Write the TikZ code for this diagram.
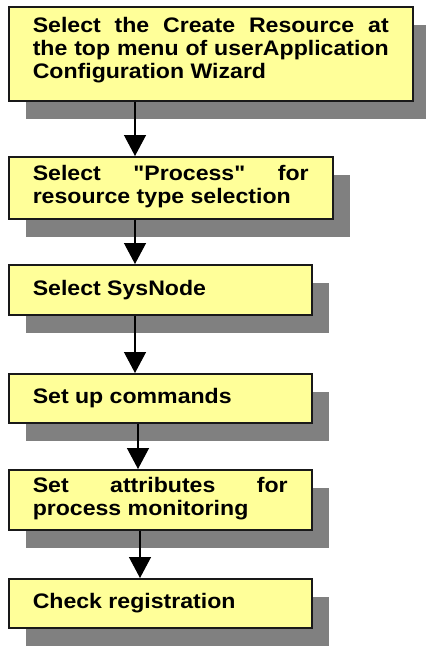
\documentclass[tikz,border=0pt]{standalone}
\usepackage{fontspec}
\newfontfamily\boxfont{Liberation Sans}[FakeStretch=1.1]
\usetikzlibrary{shadows,arrows.meta,calc}
\definecolor{boxyellow}{HTML}{FFFF99}
\definecolor{shadowgray}{HTML}{808080}
\tikzset{
  stepbox/.style={draw=black!90, line width=1.5pt, fill=boxyellow,
    anchor=north west, inner xsep=24pt, inner ysep=0pt, align=justify,
    font=\boxfont\bfseries\fontsize{21}{23}\selectfont,
    drop shadow={shadow xshift=17pt, shadow yshift=-18pt, fill=shadowgray, opacity=1}},
  arr/.style={line width=1.3pt, -{Triangle[width=22pt,length=21pt]}}
}
\begin{document}
\begin{tikzpicture}[x=1pt,y=-1pt]
\useasboundingbox (0,0) rectangle (426,646);
\node[stepbox, text width=356pt, text height=26pt, text depth=68pt] (b1) at (8,6)
  {Select the Create Resource at\linebreak the top menu of userApplication\linebreak Configuration Wizard};
\node[stepbox, text width=276pt, text height=24pt, text depth=38pt] (b2) at (8,156)
  {Select "Process" for\linebreak resource type selection};
\node[stepbox, text width=255pt, text height=31pt, text depth=19pt] (b3) at (8,264)
  {Select SysNode};
\node[stepbox, text width=255pt, text height=30pt, text depth=19pt] (b4) at (8,373)
  {Set up commands};
\node[stepbox, text width=255pt, text height=23pt, text depth=37pt] (b5) at (8,469)
  {Set attributes for\linebreak process monitoring};
\node[stepbox, text width=255pt, text height=30pt, text depth=19pt] (b6) at (8,578)
  {Check registration};
\draw[arr] ($(b1.south west)+(127,0)$) -- ($(b2.north west)+(127,0)$);
\draw[arr] ($(b2.south west)+(127,0)$) -- ($(b3.north west)+(127,0)$);
\draw[arr] ($(b3.south west)+(127,0)$) -- ($(b4.north west)+(127,0)$);
\draw[arr] ($(b4.south west)+(130,0)$) -- ($(b5.north west)+(130,0)$);
\draw[arr] ($(b5.south west)+(132,0)$) -- ($(b6.north west)+(132,0)$);
\end{tikzpicture}
\end{document}
